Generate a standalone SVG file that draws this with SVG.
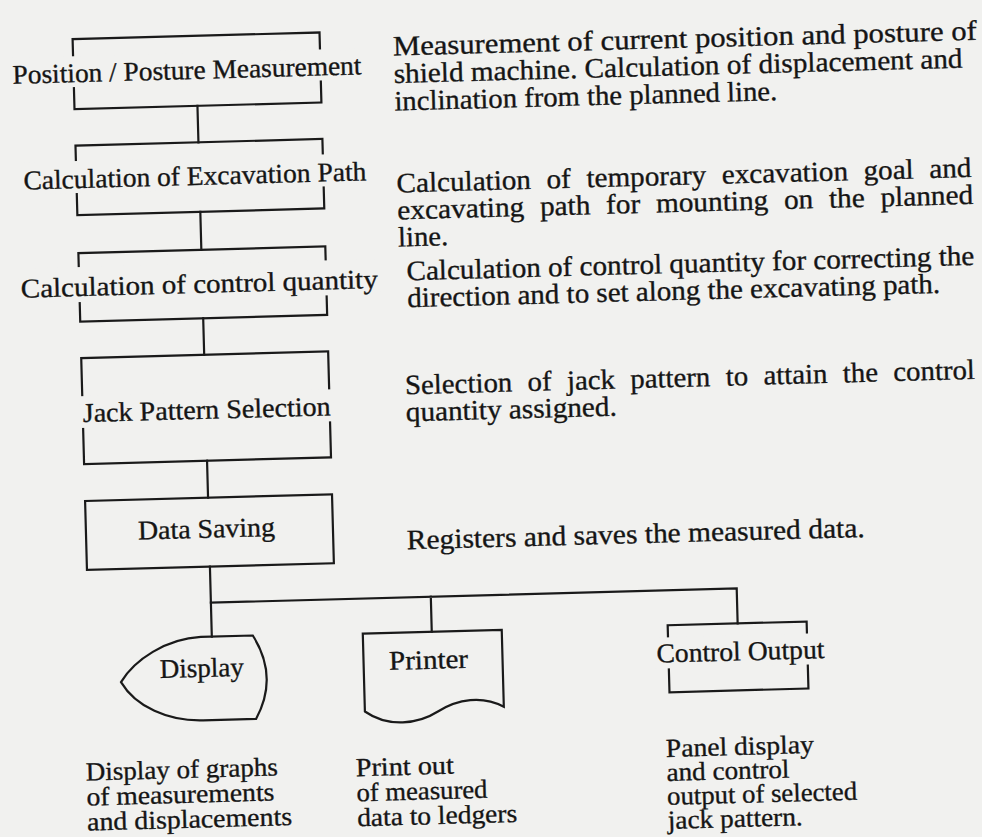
<svg xmlns="http://www.w3.org/2000/svg" width="982" height="837" viewBox="0 0 982 837">
<style>
.bx{fill:none;stroke:#1a1a1a;stroke-width:2.2}
.ln{fill:none;stroke:#1a1a1a;stroke-width:2.2;stroke-linecap:square}
.t{font-family:"Liberation Serif","Times New Roman",serif;font-size:27px;fill:#151515;stroke:#151515;stroke-width:0.35}
.d{font-size:28px}
.l{font-size:26px}
.halo{fill:#f1f1ef}
</style>
<rect width="982" height="837" fill="#f1f1ef"/>
<g transform="rotate(-1.55 491 418)">
  <g id="connectors">
    <path class="ln" d="M206 98V134.5M206 204V242M206 310.5V347M206 453V490M206 559V629"/>
    <path class="ln" d="M206 595H732V630M426 595V630"/>
  </g>
  <g id="node-position">
    <rect class="bx" x="83" y="28" width="247" height="70"/>
    <rect class="halo" x="20" y="45" width="355" height="31"/>
    <text class="t" x="22" y="71" textLength="349" lengthAdjust="spacingAndGlyphs">Position / Posture Measurement</text>
  </g>
  <g id="node-path">
    <rect class="bx" x="83" y="134.5" width="247" height="69.5"/>
    <rect class="halo" x="28" y="150" width="347" height="32"/>
    <text class="t" x="30" y="177" textLength="343" lengthAdjust="spacingAndGlyphs">Calculation of Excavation Path</text>
  </g>
  <g id="node-control">
    <rect class="bx" x="83" y="242" width="247" height="68.5"/>
    <rect class="halo" x="22" y="256" width="362" height="35"/>
    <text class="t" x="24.5" y="285" textLength="357" lengthAdjust="spacingAndGlyphs">Calculation of control quantity</text>
  </g>
  <g id="node-jack">
    <rect class="bx" x="83" y="347" width="247" height="106"/>
    <rect class="halo" x="80" y="385" width="254" height="32"/>
    <text class="t" x="83" y="411" textLength="248" lengthAdjust="spacingAndGlyphs">Jack Pattern Selection</text>
  </g>
  <g id="node-saving">
    <rect class="bx" x="83" y="490" width="247" height="69"/>
    <text class="t" x="135" y="530" textLength="137" lengthAdjust="spacingAndGlyphs">Data Saving</text>
  </g>
  <g id="node-display">
    <path class="bx" d="M247 629L195 629C160 630 128 650 114 672C128 697 160 712.5 195 712.5L248 712.5Q272 671 247 629Z"/>
    <text class="t" x="153" y="669" textLength="84" lengthAdjust="spacingAndGlyphs">Display</text>
  </g>
  <g id="node-printer">
    <path class="bx" d="M357 630L496 630L496 707C475 695 450 698 430 710C410 722 380 725 357 708Z"/>
    <text class="t" x="382.5" y="667" textLength="79" lengthAdjust="spacingAndGlyphs">Printer</text>
  </g>
  <g id="node-output">
    <rect class="bx" x="662" y="630" width="139" height="67"/>
    <rect class="halo" x="648" y="642" width="172" height="31"/>
    <text class="t" x="650" y="667" textLength="168" lengthAdjust="spacingAndGlyphs">Control Output</text>
  </g>
  <g id="descriptions" class="t d">
    <text x="403" y="53" textLength="584" lengthAdjust="spacingAndGlyphs">Measurement of current position and posture of</text>
    <text x="403" y="80.5" textLength="569" lengthAdjust="spacingAndGlyphs">shield machine. Calculation of displacement and</text>
    <text x="403" y="108" textLength="383" lengthAdjust="spacingAndGlyphs">inclination from the planned line.</text>
    <text x="403" y="190" textLength="575" lengthAdjust="spacingAndGlyphs" word-spacing="8">Calculation of temporary excavation goal and</text>
    <text x="403" y="217" textLength="576" lengthAdjust="spacingAndGlyphs" word-spacing="8">excavating path for mounting on the planned</text>
    <text x="403" y="244" textLength="50" lengthAdjust="spacingAndGlyphs">line.</text>
    <text x="410.5" y="278" textLength="568" lengthAdjust="spacingAndGlyphs">Calculation of control quantity for correcting the</text>
    <text x="410.5" y="305" textLength="533" lengthAdjust="spacingAndGlyphs">direction and to set along the excavating path.</text>
    <text x="406" y="392" textLength="570" lengthAdjust="spacingAndGlyphs" word-spacing="8">Selection of jack pattern to attain the control</text>
    <text x="406" y="419" textLength="211" lengthAdjust="spacingAndGlyphs">quantity assigned.</text>
    <text x="403.5" y="547" textLength="458" lengthAdjust="spacingAndGlyphs">Registers and saves the measured data.</text>
  </g>
  <g id="labels" class="t l">
    <text x="76.3" y="769.5" textLength="192" lengthAdjust="spacingAndGlyphs">Display of graphs</text>
    <text x="76.3" y="794.5" textLength="188" lengthAdjust="spacingAndGlyphs">of measurements</text>
    <text x="76.3" y="819.5" textLength="205" lengthAdjust="spacingAndGlyphs">and displacements</text>
    <text x="346.4" y="772.5" textLength="98" lengthAdjust="spacingAndGlyphs">Print out</text>
    <text x="346.4" y="797.5" textLength="131" lengthAdjust="spacingAndGlyphs">of measured</text>
    <text x="346.4" y="822.5" textLength="160" lengthAdjust="spacingAndGlyphs">data to ledgers</text>
    <text x="656.8" y="761.5" textLength="148" lengthAdjust="spacingAndGlyphs">Panel display</text>
    <text x="656.8" y="785.5" textLength="123" lengthAdjust="spacingAndGlyphs">and control</text>
    <text x="656.8" y="809.5" textLength="190" lengthAdjust="spacingAndGlyphs">output of selected</text>
    <text x="656.8" y="833.5" textLength="135" lengthAdjust="spacingAndGlyphs">jack pattern.</text>
  </g>
</g>
</svg>
